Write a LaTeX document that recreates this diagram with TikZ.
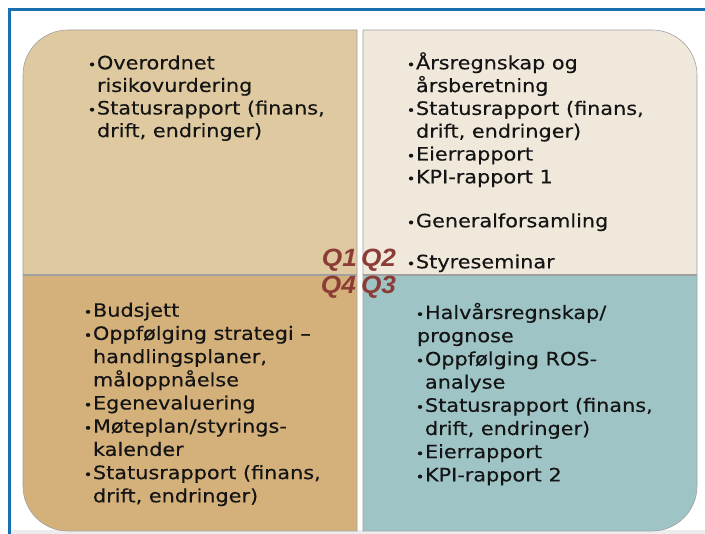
\documentclass[tikz,border=0pt]{standalone}
\usepackage{fontspec}
\setmainfont{DejaVu Sans}[FakeStretch=1.13,FakeBold=0.3]
\newfontfamily\qfont{Liberation Sans}[FakeStretch=1.05]
\definecolor{bluec}{RGB}{24,112,176}
\definecolor{stripc}{RGB}{236,236,236}
\definecolor{edgec}{RGB}{160,160,160}
\definecolor{tlc}{RGB}{223,201,160}
\definecolor{trc}{RGB}{239,232,219}
\definecolor{blc}{RGB}{212,176,122}
\definecolor{brc}{RGB}{158,196,198}
\definecolor{qc}{RGB}{140,60,55}
\definecolor{textc}{RGB}{20,20,20}
\newcommand{\bu}{\llap{{\fontsize{13}{13}\selectfont •}\hspace{0.6pt}}}
\begin{document}
\begin{tikzpicture}[x=1pt,y=-1pt,
  txt/.style={anchor=base west, inner sep=0pt, outer sep=0pt, text=textc,
    font=\fontsize{18.4}{22}\selectfont},
  qlab/.style={inner sep=0pt, outer sep=0pt, text=qc,
    font=\qfont\bfseries\itshape\fontsize{25}{25}\selectfont},
  quad/.style={draw=edgec, line width=0.6pt}]
\useasboundingbox (0,0) rectangle (705,534);
\fill[white] (0,0) rectangle (705,534);
\fill[stripc] (11,530) rectangle (705,534);
\draw[bluec, line width=3pt] (9.5,534) -- (9.5,10) -- (705,10);
% quadrants
\path[quad, fill=tlc] (357,274.5) -- (23,274.5) -- (23,75)
  arc[start angle=180, end angle=270, radius=45] -- (357,30) -- cycle;
\path[quad, fill=trc] (363,30) -- (652,30)
  arc[start angle=270, end angle=360, radius=45] -- (697,274.5) -- (363,274.5) -- cycle;
\path[quad, fill=blc] (357,275.5) -- (357,531) -- (68,531)
  arc[start angle=90, end angle=180, radius=45] -- (23,275.5) -- cycle;
\path[quad, fill=brc] (363,275.5) -- (697,275.5) -- (697,486)
  arc[start angle=0, end angle=90, radius=45] -- (363,531) -- cycle;
% quarter labels
\node[qlab, anchor=base east] (q1) at (357,266.5) {Q1};
\node[qlab, anchor=base west] (q2) at (361,266.5) {Q2};
\node[qlab, anchor=base east] (q4) at (356,294) {Q4};
\node[qlab, anchor=base west] (q3) at (361,294) {Q3};
% top left
\foreach \t [count=\i] in {{\bu Overordnet}, {risikovurdering},
    {\bu Statusrapport (finans,}, {drift, endringer)}}
  \node[txt] (tl\i) at (97, 69.3+22.6*\i-22.6) {\t};
% top right
\foreach \t/\yy [count=\i] in {{\bu Årsregnskap og}/69.3, {årsberetning}/92.1,
    {\bu Statusrapport (finans,}/114.9, {drift, endringer)}/137.7,
    {\bu Eierrapport}/160.5, {\bu KPI-rapport 1}/183.3,
    {\bu Generalforsamling}/227.3, {\bu Styreseminar}/268.3}
  \node[txt] (tr\i) at (416, \yy) {\t};
% bottom left
\foreach \t [count=\i] in {{\bu Budsjett}, {\bu Oppfølging strategi –},
    {handlingsplaner,}, {måloppnåelse}, {\bu Egenevaluering},
    {\bu Møteplan/styrings-}, {kalender}, {\bu Statusrapport (finans,},
    {drift, endringer)}}
  \node[txt] (bl\i) at (93, 316.7+23.2*\i-23.2) {\t};
% bottom right
\foreach \t/\xx [count=\i] in {{\bu Halvårsregnskap/}/425, {prognose}/417,
    {\bu Oppfølging ROS-}/425, {analyse}/425,
    {\bu Statusrapport (finans,}/425, {drift, endringer)}/425,
    {\bu Eierrapport}/425, {\bu KPI-rapport 2}/425}
  \node[txt] (br\i) at (\xx, 319+23.2*\i-23.2) {\t};
\end{tikzpicture}
\end{document}
